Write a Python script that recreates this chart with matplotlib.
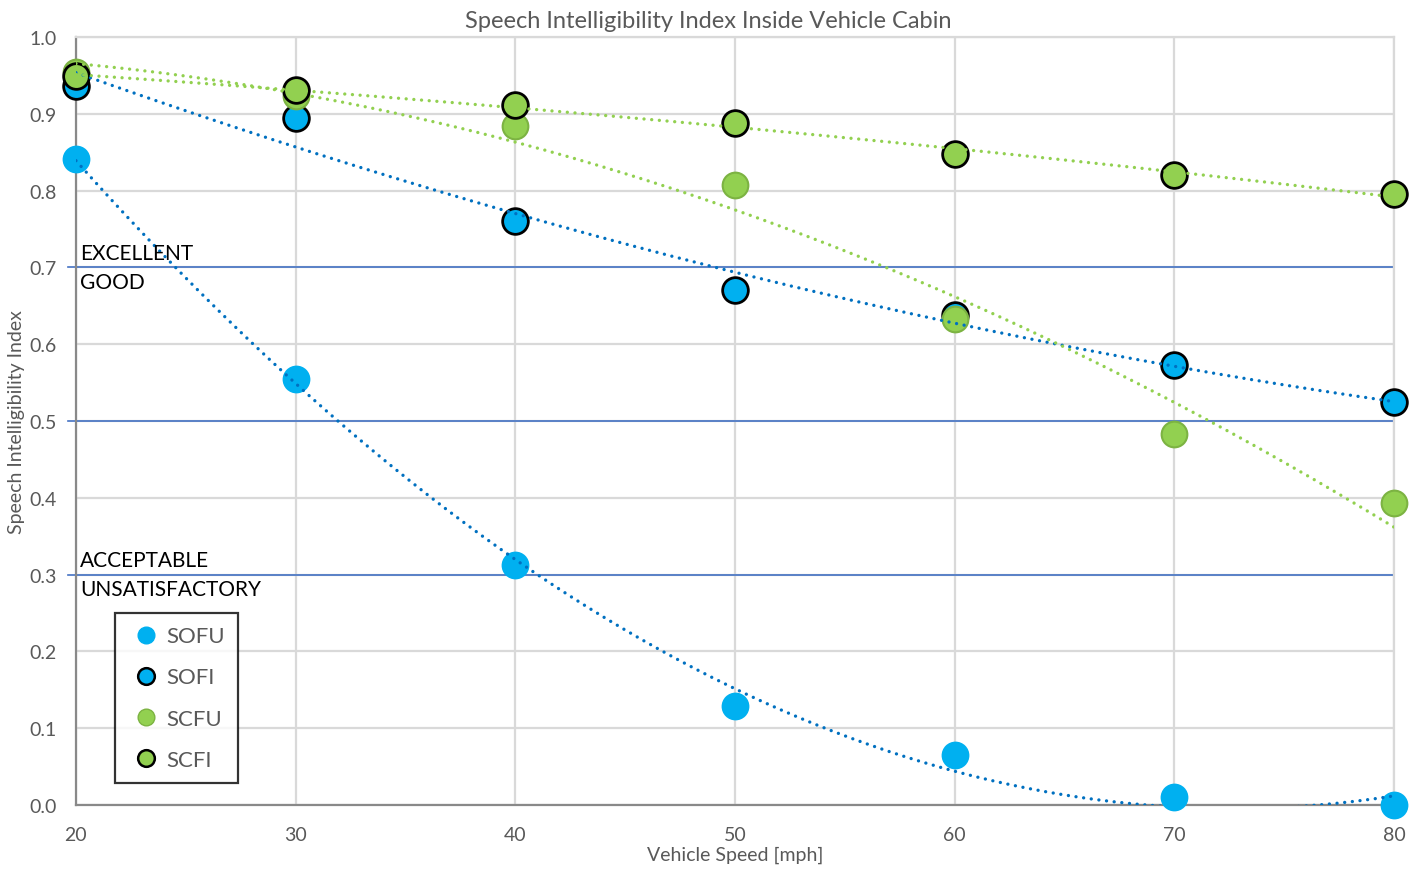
import numpy as np
import matplotlib.pyplot as plt
from matplotlib.lines import Line2D

plt.rcParams['font.family'] = ['Lato', 'DejaVu Sans']

speed = [20, 30, 40, 50, 60, 70, 80]

sofu = [0.841, 0.555, 0.312, 0.129, 0.065, 0.010, 0.000]
sofi = [0.936, 0.895, 0.760, 0.671, 0.638, 0.573, 0.525]
scfu = [0.955, 0.923, 0.884, 0.807, 0.633, 0.483, 0.393]
scfi = [0.949, 0.931, 0.911, 0.888, 0.848, 0.820, 0.796]

levels = [0.7, 0.5, 0.3]
level_above = ['EXCELLENT', '', 'ACCEPTABLE']
level_below = ['GOOD', '', 'UNSATISFACTORY']

blue = '#00B0F0'
green = '#92D050'
trend_blue = '#0070C0'
trend_green = '#92D050'
grey = '#595959'

series = [
	('SOFU', sofu, blue, blue, trend_blue),
	('SOFI', sofi, blue, 'black', trend_blue),
	('SCFU', scfu, green, '#7CB342', trend_green),
	('SCFI', scfi, green, 'black', trend_green),
]

fig = plt.figure(figsize=(14.17, 8.70), dpi=100)
ax = fig.add_axes([0.0536, 0.0736, 0.9302, 0.8827])

x = np.array(speed, dtype=float)
xs = np.linspace(20, 80, 300)

handles = []
for i, (name, vals, face, edge, tcol) in enumerate(series):
	ax.plot(x, vals, 'o', ms=18.5, mfc=face, mec=edge, mew=2 if edge == 'black' else 1.5,
		zorder=3 + i, clip_on=False)
	# second-order polynomial trendline
	coef = np.polyfit(x, vals, 2)
	ax.plot(xs, np.polyval(coef, xs), color=tcol, lw=2.4,
		linestyle=(0, (0.01, 2.3)), dash_capstyle='round', zorder=10)
	handles.append(Line2D([], [], marker='o', linestyle='', ms=12, mfc=face,
		mec=edge, mew=1.8 if edge == 'black' else 1, label=name))

for lv, above, below in zip(levels, level_above, level_below):
	ax.axhline(lv, xmin=-0.006, xmax=1, color='#4472C4', lw=1.2, zorder=2, clip_on=False)
	if above:
		ax.text(20.2, lv + 0.006, above, fontsize=15, color='black', va='bottom', ha='left', zorder=11)
	if below:
		ax.text(20.2, lv - 0.006, below, fontsize=15, color='black', va='top', ha='left', zorder=11)

ax.set_xlim(20, 80)
ax.set_ylim(0, 1.0)
ax.set_xticks(speed)
ax.set_yticks(np.arange(0, 1.01, 0.1))
ax.set_yticklabels(['%.1f' % v for v in np.arange(0, 1.01, 0.1)])
ax.grid(True, color='#D9D9D9', lw=1.6, zorder=0)
ax.set_axisbelow(True)
for s in ['top', 'right']:
	ax.spines[s].set_color('#D9D9D9')
	ax.spines[s].set_linewidth(1.6)
for s in ['left', 'bottom']:
	ax.spines[s].set_color('#898989')
	ax.spines[s].set_linewidth(1.6)
ax.tick_params(length=0, labelsize=14, labelcolor=grey)
ax.tick_params(axis='x', pad=15)
ax.tick_params(axis='y', pad=14)

ax.set_xlabel('Vehicle Speed [mph]', fontsize=14, color=grey, labelpad=2)
ax.set_ylabel('Speech Intelligibility Index', fontsize=14, color=grey, labelpad=3)
fig.text(0.5, 0.975, 'Speech Intelligibility Index Inside Vehicle Cabin',
	ha='center', va='center', fontsize=17, color=grey)

leg = ax.legend(handles=handles, loc='upper left', bbox_to_anchor=(0.0296, 0.25),
	fontsize=16, frameon=True, fancybox=False, handletextpad=0.1, labelspacing=0.95,
	borderpad=0.6, handlelength=1.6, borderaxespad=0)
leg.get_frame().set_edgecolor('black')
leg.get_frame().set_linewidth(1.6)
for t in leg.get_texts():
	t.set_color(grey)
leg.set_zorder(20)

fig.savefig('out.png', dpi=100)
